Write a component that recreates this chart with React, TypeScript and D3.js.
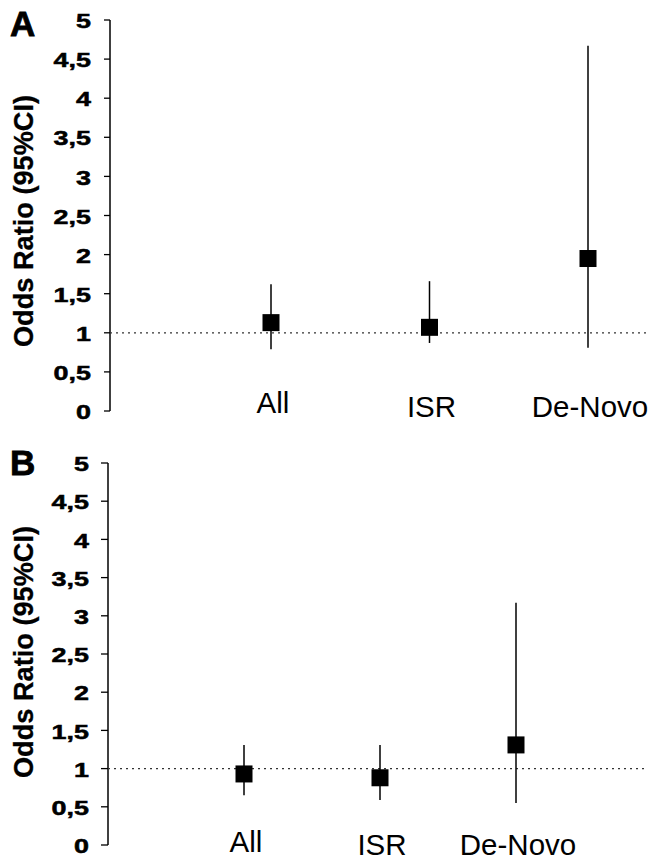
import React from 'react'
import * as d3 from 'd3'

// categories and values
const categories = ['All', 'ISR', 'De-Novo']
const tickValues = [0, 0.5, 1, 1.5, 2, 2.5, 3, 3.5, 4, 4.5, 5]
const tickLabels = ['0', '0,5', '1', '1,5', '2', '2,5', '3', '3,5', '4', '4,5', '5']

const oddsA = [1.13, 1.07, 1.95]
const lowA = [0.79, 0.87, 0.81]
const highA = [1.62, 1.66, 4.67]

const oddsB = [0.93, 0.88, 1.31]
const lowB = [0.65, 0.59, 0.55]
const highB = [1.31, 1.31, 3.17]

const font = 'Liberation Sans, Arial, Helvetica, sans-serif'

interface PanelProps {
    letter: string
    odds: number[]
    low: number[]
    high: number[]
    axisX: number
    yTop: number
    yBottom: number
    xFirst: number
    xLast: number
    labelBaseline: number[]
    letterY: number
    tickLen: number
    titleCenter: number
}

const Panel = (props: PanelProps) => {
    const { letter, odds, low, high, axisX, yTop, yBottom, xFirst, xLast, labelBaseline, letterY, tickLen, titleCenter } = props

    const y = d3.scaleLinear().domain([0, 5]).range([yBottom, yTop])
    const x = d3.scalePoint<string>().domain(categories).range([xFirst, xLast])
    const sq = 17

    return (
        <g>
            <text x={10} y={letterY} fontFamily={font} fontWeight="bold" fontSize={35}
                  stroke="#000" strokeWidth={0.8}>{letter}</text>

            {/* y axis title */}
            <text transform={`translate(33,${titleCenter}) rotate(-90)`}
                  textAnchor="middle" fontFamily={font} fontWeight="bold" fontSize={28}
                  stroke="#000" strokeWidth={0.3}
                  textLength={252} lengthAdjust="spacingAndGlyphs">Odds Ratio (95%CI)</text>

            {/* axis */}
            <line x1={axisX} x2={axisX} y1={y(5)} y2={y(0)} stroke="#000" strokeWidth={1.5} />
            {tickValues.map((v, i) => (
                <g key={`t-${i}`}>
                    <line x1={axisX - tickLen} x2={axisX} y1={y(v)} y2={y(v)} stroke="#000" strokeWidth={1.3} />
                    <g transform={`translate(${axisX - 19},${y(v)}) scale(1.38,1)`}>
                        <text textAnchor="end" dy="0.42em" fontFamily={font} fontWeight="bold" fontSize={19.5}
                              stroke="#000" strokeWidth={0.5}>{tickLabels[i]}</text>
                    </g>
                </g>
            ))}

            {/* reference line at OR = 1 */}
            <line x1={axisX} x2={648} y1={y(1)} y2={y(1)} stroke="#333" strokeWidth={1.2} strokeDasharray="2,4" />

            {categories.map((c, i) => (
                <g key={`p-${c}`}>
                    <line x1={x(c)} x2={x(c)} y1={y(high[i])} y2={y(low[i])} stroke="#000" strokeWidth={1.5} />
                    <rect x={(x(c) as number) - sq / 2} y={y(odds[i]) - sq / 2} width={sq} height={sq} fill="#000" />
                    <text x={(x(c) as number) + 2} y={labelBaseline[i]} textAnchor="middle"
                          fontFamily={font} fontSize={29.5}>{c}</text>
                </g>
            ))}
        </g>
    )
}

const App = () => {
    return (
        <svg width={656} height={861} style={{ position: 'absolute', left: 0, top: 0, background: '#fff' }}>
            <rect width={656} height={861} fill="#fff" />
            <Panel letter="A" odds={oddsA} low={lowA} high={highA}
                   axisX={110} yTop={20} yBottom={411} xFirst={271} xLast={588}
                   labelBaseline={[413, 417, 417]} letterY={36} tickLen={6} titleCenter={221} />
            <Panel letter="B" odds={oddsB} low={lowB} high={highB}
                   axisX={108} yTop={463} yBottom={845} xFirst={244} xLast={516}
                   labelBaseline={[852, 855, 855]} letterY={475} tickLen={7} titleCenter={652} />
        </svg>
    )
}

export default App
